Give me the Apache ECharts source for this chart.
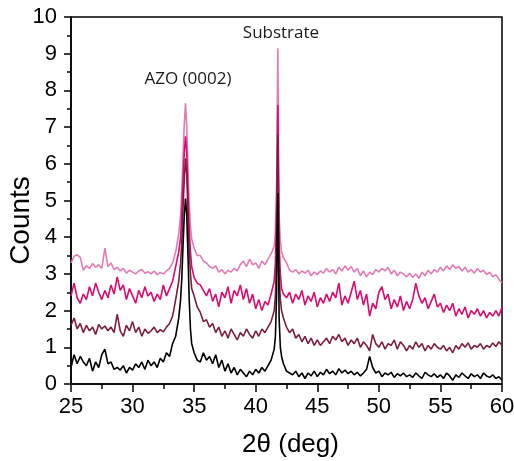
<!DOCTYPE html>
<html>
<head>
<meta charset="utf-8">
<script src="https://cdn.jsdelivr.net/npm/echarts@6/dist/echarts.min.js"></script>
<style>html,body{margin:0;padding:0;background:#fff}#c{width:514px;height:461px}</style>
</head>
<body>
<div id="c"></div>
<script>
// 2-theta positions (deg)
var twoTheta = [
25.00,25.25,25.50,25.75,26.00,26.25,26.50,26.75,27.00,27.25,27.50,27.75,28.00,28.25,28.50,28.75,29.00,29.25,29.50,29.75,
30.00,30.25,30.50,30.75,31.00,31.25,31.50,31.75,32.00,32.25,32.50,32.75,33.00,33.25,
33.50,33.75,33.90,34.00,34.10,34.20,34.30,34.40,34.50,34.60,34.70,34.80,35.00,35.25,
35.50,35.75,36.00,36.25,36.50,36.75,37.00,37.25,37.50,37.75,38.00,38.25,38.50,38.75,39.00,39.25,39.50,39.75,40.00,40.25,40.50,40.75,41.00,41.25,
41.50,41.60,41.70,41.75,41.80,41.85,41.90,42.00,42.10,42.25,
42.50,42.75,43.00,43.25,43.50,43.75,44.00,44.25,44.50,44.75,
45.00,45.25,45.50,45.75,46.00,46.25,46.50,46.75,47.00,47.25,
47.50,47.75,48.00,48.25,48.50,48.75,49.00,49.25,49.50,49.75,
50.00,50.25,50.50,50.75,51.00,51.25,51.50,51.75,52.00,52.25,
52.50,52.75,53.00,53.25,53.50,53.75,54.00,54.25,54.50,54.75,
55.00,55.25,55.50,55.75,56.00,56.25,56.50,56.75,57.00,57.25,
57.50,57.75,58.00,58.25,58.50,58.75,59.00,59.25,59.50,59.75,
60.00
];
var pinkCounts = [
3.30,3.48,3.52,3.45,3.10,3.22,3.15,3.28,3.18,3.25,3.15,3.70,3.20,3.30,3.12,3.18,3.08,3.15,3.02,3.10,
3.05,3.00,3.08,3.12,3.02,3.06,3.00,3.08,2.98,3.04,3.00,3.08,3.15,3.30,
3.60,4.10,4.60,5.30,6.20,7.10,7.65,7.00,5.90,4.90,4.30,3.95,3.70,3.50,
3.50,3.35,3.30,3.20,3.15,3.22,3.05,3.12,3.00,3.10,3.05,3.15,3.08,3.25,3.35,3.20,3.40,3.25,3.30,3.15,3.35,3.25,3.40,3.55,
3.75,4.10,5.50,7.50,9.15,6.50,4.60,3.90,3.60,3.45,
3.30,3.10,3.05,3.12,3.00,3.08,3.02,3.10,2.95,3.05,
2.98,3.08,3.02,3.15,3.05,3.12,3.00,3.18,3.08,3.22,
3.10,3.20,3.05,3.15,2.95,3.08,2.92,3.05,2.98,3.12,
3.05,3.15,3.08,3.18,3.00,3.10,2.95,3.05,3.00,2.92,
3.02,2.90,3.00,2.88,3.05,2.95,3.10,3.00,3.12,3.05,
3.18,3.08,3.22,3.12,3.25,3.15,3.20,3.08,3.18,3.05,
3.12,3.02,3.15,3.05,3.10,2.98,3.05,2.92,2.98,2.85,
2.75
];
var magentaCounts = [
2.40,2.75,2.35,2.20,2.45,2.30,2.65,2.40,2.75,2.50,2.30,2.55,2.35,2.70,2.45,2.92,2.55,2.70,2.30,2.60,
2.40,2.20,2.55,2.35,2.65,2.40,2.50,2.25,2.45,2.30,2.70,2.40,2.60,2.80,
3.20,3.60,4.00,4.70,5.60,6.30,6.75,6.30,5.20,4.20,3.60,3.20,2.90,2.75,
2.70,2.55,2.40,2.60,2.25,2.45,2.10,2.50,2.35,2.65,2.20,2.55,2.40,2.70,2.30,2.60,2.20,2.45,2.05,2.30,2.00,2.25,2.15,2.45,
2.80,3.30,4.80,6.40,7.60,5.60,3.80,3.00,2.60,2.45,
2.35,2.50,2.20,2.45,2.30,2.55,2.15,2.40,2.25,2.50,
2.10,2.35,2.20,2.45,2.25,2.50,2.35,2.75,2.15,2.40,
2.20,2.50,2.80,2.30,2.55,2.15,2.45,1.85,2.20,2.05,
2.50,2.65,2.30,2.45,2.05,2.30,2.10,2.40,2.00,2.25,
2.05,2.30,2.75,2.40,2.20,2.35,2.05,2.25,2.45,2.10,
2.20,1.95,2.15,2.00,2.20,1.85,2.05,1.90,2.10,1.80,
2.00,1.90,2.05,1.85,2.00,1.80,1.95,1.85,2.00,1.85,
2.10
];
var maroonCounts = [
1.60,1.80,1.50,1.65,1.40,1.60,1.45,1.55,1.35,1.62,1.50,1.58,1.45,1.55,1.40,1.90,1.45,1.30,1.60,1.45,
1.70,1.40,1.55,1.30,1.50,1.38,1.45,1.55,1.40,1.48,1.42,1.55,1.65,1.85,
2.30,2.80,3.30,3.90,4.80,5.60,6.15,5.70,4.60,3.60,3.00,2.60,2.40,2.10,
1.95,1.70,1.75,1.55,1.65,1.40,1.55,1.30,1.45,1.25,1.50,1.35,1.20,1.40,1.30,1.50,1.35,1.25,1.45,1.30,1.50,1.40,1.55,1.70,
2.00,2.40,3.80,5.60,6.80,4.80,3.00,2.30,2.00,1.80,
1.55,1.40,1.50,1.25,1.35,1.15,1.30,1.10,1.25,1.05,
1.20,1.05,1.15,1.25,1.10,1.30,1.20,1.35,1.15,1.25,
1.05,1.20,1.10,1.25,1.00,1.15,1.05,0.90,1.35,1.10,
1.00,1.15,0.95,1.10,1.05,1.20,0.95,1.15,1.05,0.90,
1.05,0.95,1.15,1.00,1.10,0.90,1.05,0.95,1.10,1.00,
0.95,1.05,0.90,1.00,0.85,1.05,0.95,1.10,1.00,1.12,
0.95,1.05,1.00,1.10,0.95,1.05,1.00,1.12,1.02,1.15,
1.05
];
var blackCounts = [
0.45,0.80,0.55,0.75,0.60,0.50,0.70,0.35,0.60,0.45,0.80,0.95,0.55,0.60,0.40,0.45,0.38,0.50,0.30,0.45,
0.38,0.55,0.45,0.60,0.40,0.65,0.50,0.60,0.45,0.70,0.60,0.85,0.75,1.10,
1.30,1.80,2.30,2.90,3.80,4.60,5.05,4.60,3.50,2.30,1.50,1.10,0.85,0.65,
0.60,0.85,0.65,0.75,0.55,0.80,0.45,0.65,0.35,0.55,0.30,0.45,0.25,0.40,0.30,0.20,0.35,0.25,0.40,0.30,0.45,0.35,0.50,0.65,
0.95,1.30,2.50,4.20,5.20,3.60,1.80,1.00,0.75,0.55,
0.35,0.30,0.25,0.35,0.20,0.30,0.15,0.30,0.22,0.35,
0.20,0.32,0.25,0.40,0.28,0.35,0.25,0.42,0.30,0.38,
0.28,0.35,0.25,0.32,0.22,0.30,0.40,0.75,0.45,0.30,
0.35,0.20,0.30,0.25,0.32,0.18,0.28,0.22,0.30,0.20,
0.25,0.18,0.30,0.22,0.15,0.32,0.25,0.20,0.28,0.18,
0.25,0.15,0.30,0.22,0.10,0.25,0.18,0.30,0.22,0.15,
0.28,0.20,0.25,0.15,0.30,0.22,0.18,0.25,0.15,0.20,
0.10
];
var annotations = [
  {name: 'AZO (0002)', coord: [34.5, 8.3]},
  {name: 'Substrate', coord: [42.05, 9.56]}
];
var xTicks = {min: 25, max: 60, interval: 5};
var yTicks = {min: 0, max: 10, interval: 1};

function pairs(ys) { return twoTheta.map(function (x, i) { return [x, ys[i]]; }); }

var chart = echarts.init(document.getElementById('c'), null, {renderer: 'canvas'});
var axisFont = 'Arial, "Liberation Sans", sans-serif';
function mkSeries(name, ys, color, z) {
  return {
    name: name, type: 'line', data: pairs(ys), showSymbol: false, symbol: 'none',
    lineStyle: {color: color, width: 1.6}, z: z, animation: false
  };
}
var series = [
  mkSeries('s4', pinkCounts, '#e47ab3', 2),
  mkSeries('s3', magentaCounts, '#da0b6e', 3),
  mkSeries('s2', maroonCounts, '#7d1d42', 4),
  mkSeries('s1', blackCounts, '#000000', 5)
];
series[0].markPoint = {
  symbol: 'circle', symbolSize: 0, animation: false,
  label: {show: true, position: 'inside', formatter: '{b}', color: '#1a1a1a',
          fontFamily: '"Open Sans", sans-serif', fontSize: 17},
  data: annotations.map(function (a) { return {name: a.name, coord: a.coord}; })
};

chart.setOption({
  animation: false,
  backgroundColor: '#fff',
  grid: {left: 71, right: 12, top: 17, bottom: 77, containLabel: false, outerBoundsMode: 'none',
         show: true, borderColor: '#000', borderWidth: 1.5, backgroundColor: 'transparent'},
  xAxis: {
    type: 'value', min: xTicks.min, max: xTicks.max, interval: xTicks.interval,
    name: '2\u03b8 (deg)', nameLocation: 'middle', nameGap: 48, nameMoveOverlap: false,
    nameTextStyle: {fontFamily: axisFont, fontSize: 26, color: '#000', padding: [0, 0, 0, 8]},
    axisLine: {show: true, onZero: false, lineStyle: {color: '#000', width: 1.5}},
    axisTick: {show: true, inside: false, length: 8, lineStyle: {color: '#000', width: 1.5}},
    minorTick: {show: true, splitNumber: 2, length: 5, lineStyle: {color: '#000', width: 1.5}},
    axisLabel: {fontFamily: axisFont, fontSize: 22, color: '#000', margin: 12},
    splitLine: {show: false}
  },
  yAxis: {
    type: 'value', min: yTicks.min, max: yTicks.max, interval: yTicks.interval,
    name: 'Counts', nameLocation: 'middle', nameGap: 36, nameRotate: 90, nameMoveOverlap: false,
    nameTextStyle: {fontFamily: axisFont, fontSize: 28, color: '#000', padding: [0, 40, 0, 0]},
    axisLine: {show: true, onZero: false, lineStyle: {color: '#000', width: 1.5}},
    axisTick: {show: true, inside: false, length: 7, lineStyle: {color: '#000', width: 1.5}},
    minorTick: {show: true, splitNumber: 2, length: 4, lineStyle: {color: '#000', width: 1.5}},
    axisLabel: {fontFamily: axisFont, fontSize: 22, color: '#000', margin: 14},
    splitLine: {show: false}
  },
  series: series
});
</script>
</body>
</html>
